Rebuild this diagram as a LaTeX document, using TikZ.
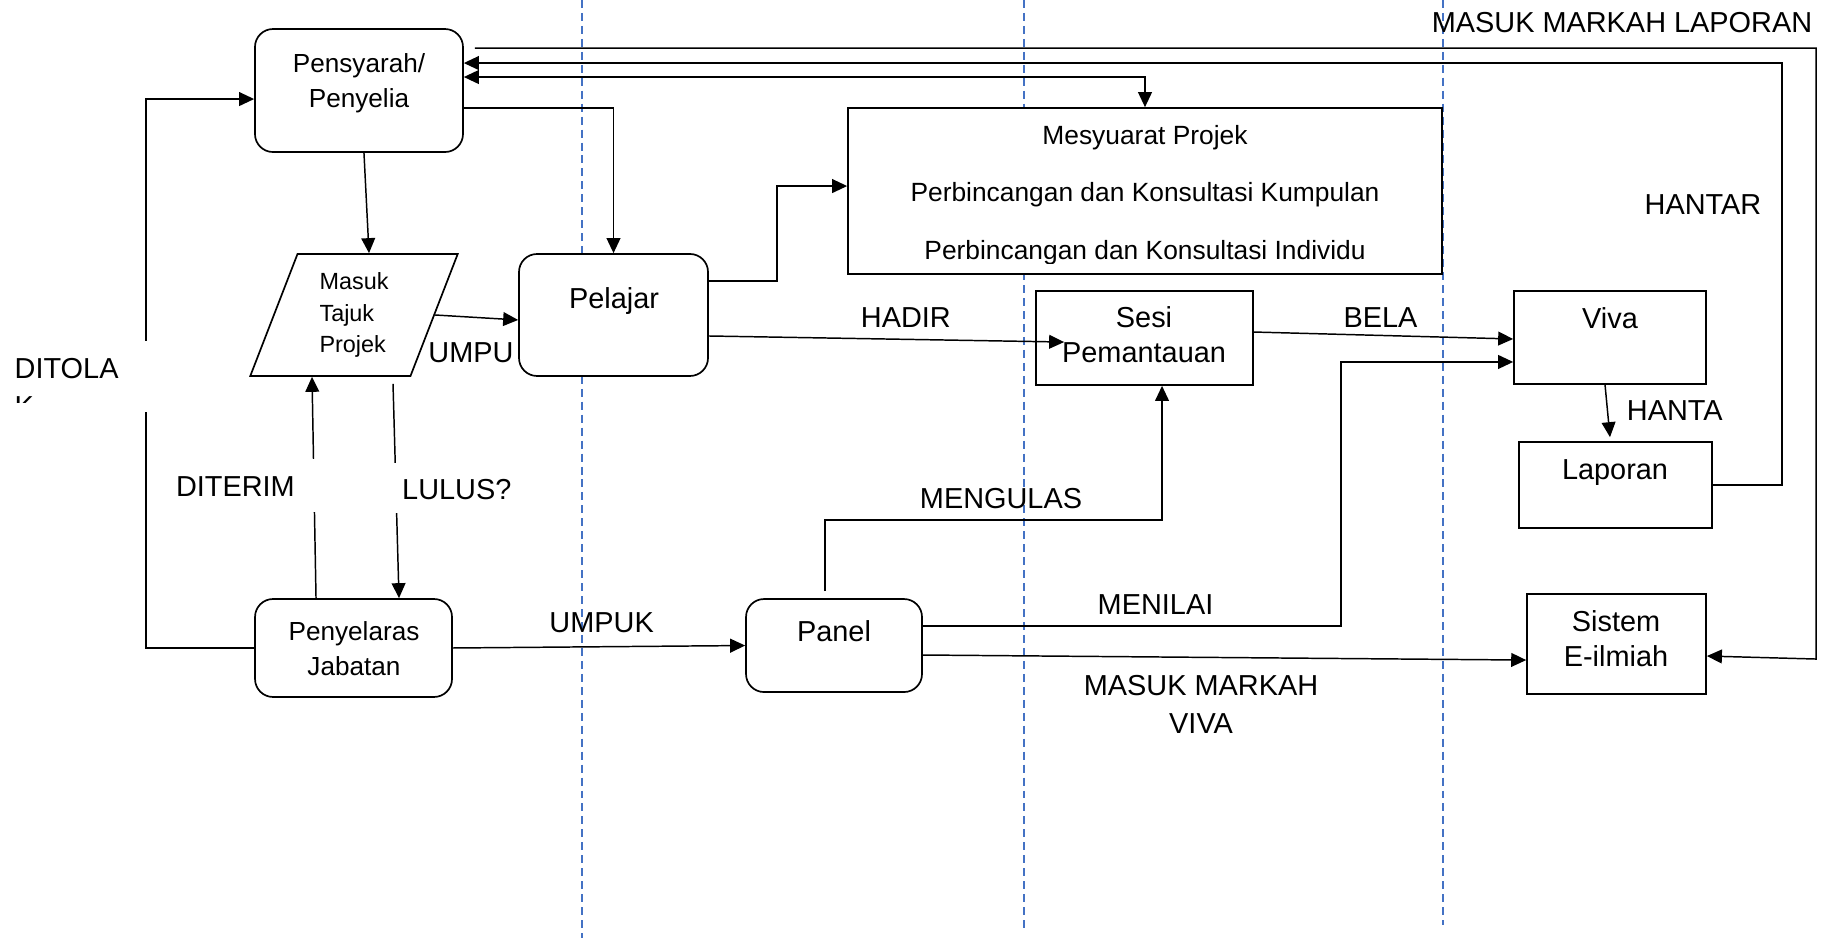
\documentclass[tikz,border=0pt]{standalone}
\usepackage{fontspec}
\setmainfont{Liberation Sans}
\usetikzlibrary{arrows.meta,shapes.geometric}
\definecolor{laneblue}{HTML}{4472C4}
\newcommand\lblfont{\fontsize{13.7pt}{18pt}\selectfont}
\newcommand\boxfont{\fontsize{13.7pt}{16.5pt}\selectfont}
\newcommand\namefont{\fontsize{12.4pt}{16.5pt}\selectfont}
\newcommand\mesyfont{\fontsize{12.5pt}{27.2pt}\selectfont}
\newcommand\tajukfont{\fontsize{11.1pt}{15.1pt}\selectfont}
\begin{document}
\begin{tikzpicture}[x=1cm,y=1cm,line width=.7pt,font=\lblfont,
  >={Triangle[length=.25cm,width=.23cm]},
  box/.style={draw,fill=white,line width=.8pt,inner sep=0pt},
  rbox/.style={box,rounded corners=.3cm},
  lane/.style={draw=laneblue,line width=.6pt,dash pattern=on .133cm off .083cm},
  txt/.style={inner sep=0pt,align=center,font=\boxfont},
  lbl/.style={inner sep=0pt,align=center,font=\lblfont}]
\useasboundingbox (0,0) rectangle (30.533,15.667);
\draw[lane] (9.7,15.667)--(9.7,0.033);
\draw[lane] (17.067,15.667)--(17.067,0.167);
\draw[lane] (24.05,15.667)--(24.05,0.25);
\node[rbox,minimum width=3.467cm,minimum height=2.05cm] (pens) at (5.983,14.158) {};
\node[box,trapezium,trapezium left angle=71,trapezium right angle=109,trapezium stretches=true,
  inner sep=2pt,align=left,font=\tajukfont,
  minimum width=3.467cm,minimum height=2.033cm] (masuk) at (5.9,10.417) {Masuk\\Tajuk\\Projek};
\node[rbox,minimum width=3.15cm,minimum height=2.033cm] (pel) at (10.225,10.417) {};
\node[box,minimum width=9.9cm,minimum height=2.767cm] (mesy) at (19.083,12.483) {};
\node[box,minimum width=3.617cm,minimum height=1.567cm] (sesi) at (19.075,10.033) {};
\node[box,minimum width=3.2cm,minimum height=1.55cm] (viva) at (26.833,10.042) {};
\node[box,minimum width=3.217cm,minimum height=1.433cm] (lap) at (26.925,7.583) {};
\node[box,minimum width=2.983cm,minimum height=1.667cm] (sis) at (26.942,4.933) {};
\node[rbox,minimum width=2.933cm,minimum height=1.55cm] (panel) at (13.9,4.908) {};
\node[rbox,minimum width=3.283cm,minimum height=1.633cm] (peny) at (5.892,4.867) {};
\node[txt,font=\namefont] (tpens) at (5.983,14.283) {Pensyarah/\\Penyelia};
\node[txt,anchor=base] (tpel) at (10.233,10.533) {Pelajar};
\begin{scope}
\clip ([yshift=.183cm]mesy.south west) rectangle (mesy.north east);
\node[txt,font=\mesyfont] (tmesy) at (19.083,12.417) {Mesyuarat Projek\\Perbincangan dan Konsultasi Kumpulan\\Perbincangan dan Konsultasi Individu};
\end{scope}
\node[txt] (tsesi) at (19.067,10.083) {Sesi\\Pemantauan};
\node[txt,anchor=base] (tviva) at (26.833,10.2) {Viva};
\node[txt,anchor=base] (tlap) at (26.917,7.667) {Laporan};
\node[txt] (tsis) at (26.933,5.025) {Sistem\\E-ilmiah};
\node[txt,anchor=base] (tpanel) at (13.9,4.967) {Panel};
\node[txt,font=\namefont] (tpeny) at (5.9,4.858) {Penyelaras\\Jabatan};
\draw[->] (peny.west)--++(-1.8,0)|-([yshift=-.142cm]pens.west);
\draw[->] ([xshift=.083cm]pens.south)--([xshift=.25cm]masuk.north);
\draw[->] (masuk.east)--([yshift=-.083cm]pel.west);
\draw[->] ([xshift=-.625cm]peny.north)--([xshift=-.7cm]masuk.south);
\draw[->] ([xshift=.65cm,yshift=-.117cm]masuk.south)--([xshift=.758cm]peny.north);
\draw[->] ([yshift=-.292cm]pens.east)-|(pel.north);
\draw[<->] ([yshift=.225cm]pens.east)-|(mesy.north);
\draw[->] (lap.east)--++(1.15,0)|-([yshift=.458cm]pens.east);
\draw[->] ([xshift=.183cm,yshift=.708cm]pens.east)-|(30.267,4.683)--([yshift=-.2cm]sis.east);
\draw[->] ([yshift=.567cm]pel.east)--++(1.133,0)|-([yshift=.083cm]mesy.west);
\draw[->] ([yshift=-.35cm]pel.east)--([xshift=.483cm,yshift=-.067cm]sesi.west);
\draw[->] ([yshift=.1cm]sesi.east)--([yshift=-.025cm]viva.west);
\draw[->] ([xshift=-.15cm,yshift=.117cm]panel.north)--++(0,1.183)-|([xshift=.292cm]sesi.south);
\draw[->] ([yshift=.325cm]panel.east)--++(6.967,0)|-([yshift=-.408cm]viva.west);
\draw[->] ([yshift=-.158cm]panel.east)--([yshift=-.267cm]sis.west);
\draw[->] (peny.east)--(panel.west);
\draw[->] ([xshift=-.083cm]viva.south)--([xshift=-.092cm,yshift=.067cm]lap.north);
\fill[white] (2.333,8.8) rectangle (2.6,9.983);
\fill[white] (5.0,7.133) rectangle (5.5,8.017);
\fill[white] (6.333,7.117) rectangle (6.833,7.95);
\node[lbl] (markahlap) at (27.033,15.283) {MASUK MARKAH LAPORAN};
\node[lbl] (hantar) at (28.383,12.25) {HANTAR};
\node[lbl] (hadir) at (15.097,10.367) {HADIR};
\node[lbl] (bela) at (23.008,10.367) {BELA};
\node[lbl] (hanta) at (27.913,8.817) {HANTA};
\node[lbl] (umpu) at (7.85,9.783) {UMPU};
\node[lbl] (diterim) at (3.923,7.555) {DITERIM};
\node[lbl] (lulus) at (7.613,7.5) {LULUS?};
\node[lbl] (mengulas) at (16.683,7.353) {MENGULAS};
\node[lbl] (umpuk) at (10.027,5.292) {UMPUK};
\node[lbl] (menilai) at (19.258,5.583) {MENILAI};
\node[lbl] (markahviva) at (20.017,3.933) {MASUK MARKAH\\VIVA};
\begin{scope}
\clip (0,8.958) rectangle (2.6,9.983);
\node[lbl,align=left,anchor=north west] (ditolak) at (0.233,9.7) {DITOLA\\K};
\end{scope}
\end{tikzpicture}
\end{document}
